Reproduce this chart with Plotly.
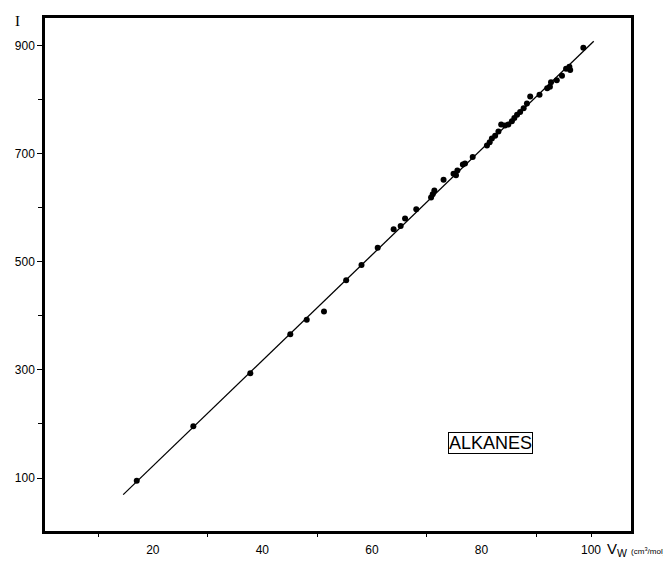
import plotly.graph_objects as go

# Measured points: van der Waals volume V_W (cm3/mol) vs retention index I
V_W = [17.07, 27.4, 37.8, 45.1, 48.1, 51.25, 55.3, 58.1, 61.06, 63.97, 65.25, 66.05,
       68.1, 70.8, 71.1, 71.4, 73.08, 74.9, 75.35, 75.6, 76.6, 77.0, 78.4,
       81.0, 81.5, 81.9, 82.5, 83.1, 83.6, 84.3, 84.9, 85.55, 86.0, 86.5, 87.06,
       87.7, 88.3, 88.9, 90.6, 92.0, 92.5, 92.7, 93.75, 94.7, 95.45, 96.05, 96.2, 98.6]
I_VAL = [95, 196, 294, 366, 393, 408, 466, 494, 526, 560, 566, 580,
         597, 619, 625, 632, 652, 663, 660, 669, 680, 682, 694,
         715, 721, 728, 733, 741, 754, 752, 754, 760, 766, 772, 777,
         784, 793, 806, 809, 821, 824, 832, 836, 844, 857, 861, 855, 896]

# Fitted straight line (end points)
FIT_V = [14.6, 100.5]
FIT_I = [69.3, 908]

X_TICK_LABELS = [20, 40, 60, 80, 100]
X_TICK_MARKS = [10, 30, 50, 70, 90, 100]
Y_TICK_LABELS = [100, 300, 500, 700, 900]

W, H = 663, 556
ML, MR, MT, MB = 36, 40, 7, 30
PW, PH = W - ML - MR, H - MT - MB


def px(xf):
    return (xf - ML) / PW


def py(yf):
    return 1 - (yf - MT) / PH


fig = go.Figure()
fig.add_trace(go.Scatter(x=FIT_V, y=FIT_I, mode="lines",
                         line=dict(color="black", width=1.3),
                         xaxis="x2", yaxis="y", hoverinfo="skip"))
fig.add_trace(go.Scatter(x=V_W, y=I_VAL, mode="markers",
                         marker=dict(color="black", size=6)))

fig.update_layout(
    width=W, height=H,
    margin=dict(l=ML, r=MR, t=MT, b=MB, pad=0),
    paper_bgcolor="white", plot_bgcolor="white",
    showlegend=False,
    font=dict(family="Liberation Sans, Arial, sans-serif", size=12, color="black"),
    xaxis=dict(range=[0.32, 107.3], tickvals=X_TICK_LABELS, ticks="",
               showgrid=False, zeroline=False, showline=True, mirror=True,
               linecolor="black", linewidth=2.5, ticklabelstandoff=6),
    xaxis2=dict(overlaying="x", matches="x", anchor="y", side="bottom",
                tickvals=X_TICK_MARKS, ticks="outside", ticklen=5, tickwidth=1.2,
                tickcolor="black", showticklabels=False, showgrid=False,
                zeroline=False, showline=False),
    yaxis=dict(range=[2, 951], tickvals=Y_TICK_LABELS, ticks="outside",
               ticklen=5, tickwidth=1.2, tickcolor="black",
               minor=dict(ticks="outside", tick0=0, dtick=100, ticklen=4,
                          tickwidth=1.2, tickcolor="black"),
               showgrid=False, zeroline=False, showline=True, mirror=True,
               linecolor="black", linewidth=2.5),
)

fig.add_annotation(text="ALKANES", x=81.6, y=164, xref="x", yref="y",
                   showarrow=False, font=dict(size=18, family="Liberation Sans, Arial"),
                   bordercolor="black", borderwidth=1, borderpad=0)
fig.add_annotation(text="I", x=px(8), y=py(0), xref="paper", yref="paper",
                   xanchor="center", yanchor="top", showarrow=False,
                   font=dict(size=15, family="Liberation Serif, serif"))
fig.add_annotation(text="V<sub>W</sub> <span style='font-size:8px'>(cm<sup>3</sup>/mol)</span>",
                   x=px(597), y=py(545), xref="paper", yref="paper", showarrow=False,
                   xanchor="left", yanchor="middle", font=dict(size=15))

fig.write_html("out.html")
